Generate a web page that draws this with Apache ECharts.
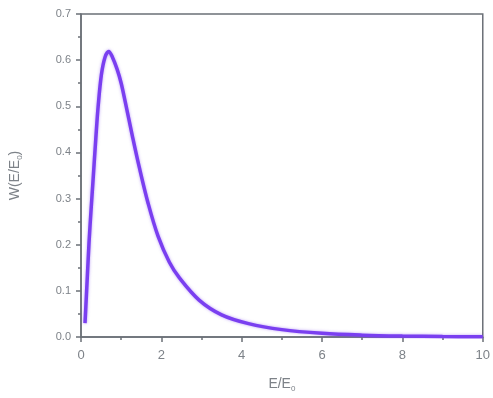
<!DOCTYPE html>
<html>
<head>
<meta charset="utf-8">
<script src="https://cdn.jsdelivr.net/npm/echarts@6/dist/echarts.min.js"></script>
<style>
html,body{margin:0;padding:0;background:#fff;}
#chart{width:493px;height:398px;}
</style>
</head>
<body>
<div id="chart"></div>
<script>
// Data
const energy = [0.10, 0.12, 0.16, 0.20, 0.25, 0.30, 0.37, 0.43, 0.51, 0.60, 0.69, 0.78, 0.90, 1.00, 1.10, 1.28, 1.45, 1.67, 1.92, 2.20, 2.45, 2.94, 3.50, 4.17, 5.00, 6.00, 7.00, 8.00, 9.00, 10.0];
const wValues = [0.030, 0.065, 0.135, 0.205, 0.275, 0.340, 0.432, 0.503, 0.570, 0.607, 0.619, 0.607, 0.580, 0.550, 0.510, 0.435, 0.368, 0.290, 0.218, 0.162, 0.128, 0.080, 0.048, 0.029, 0.016, 0.008, 0.004, 0.002, 0.001, 0.0005];
const xTicks = [0, 2, 4, 6, 8, 10];
const yTicks = [0.0, 0.1, 0.2, 0.3, 0.4, 0.5, 0.6, 0.7];

const points = energy.map((e, i) => [e, wValues[i]]);
const axisColor = '#6b7077';
const labelColor = '#7d8288';
const font = 'Liberation Sans, Arial, sans-serif';

const chart = echarts.init(document.getElementById('chart'));
chart.setOption({
  animation: false,
  backgroundColor: '#fff',
  grid: { left: 80, right: 5, top: 14, bottom: 56, show: true, borderColor: axisColor, borderWidth: 1.5 },
  xAxis: {
    type: 'value', min: xTicks[0], max: xTicks[xTicks.length - 1], interval: 2,
    name: 'E/E{sub|0}', nameLocation: 'middle', nameGap: 38,
    nameTextStyle: { color: labelColor, fontSize: 14, fontFamily: font,
      rich: { sub: { fontSize: 8, verticalAlign: 'bottom', padding: [10, 0, 0, 0], color: labelColor } } },
    axisLine: { lineStyle: { color: axisColor, width: 1.5 } },
    axisTick: { show: true, length: 5, lineStyle: { color: axisColor, width: 1.5 } },
    minorTick: { show: true, splitNumber: 2, length: 3, lineStyle: { color: axisColor, width: 1.5 } },
    splitLine: { show: false },
    axisLabel: { color: labelColor, fontSize: 13, fontFamily: font, margin: 12 }
  },
  yAxis: {
    type: 'value', min: yTicks[0], max: yTicks[yTicks.length - 1], interval: 0.1,
    name: 'W(E/E{sub|0})', nameLocation: 'middle', nameGap: 57, nameRotate: 90,
    nameTextStyle: { color: labelColor, fontSize: 14, fontFamily: font,
      rich: { sub: { fontSize: 8, color: labelColor, padding: [10, 0, 0, 0] } } },
    axisLine: { show: true, lineStyle: { color: axisColor, width: 1.5 } },
    axisTick: { show: true, length: 5, lineStyle: { color: axisColor, width: 1.5 } },
    minorTick: { show: true, splitNumber: 2, length: 3, lineStyle: { color: axisColor, width: 1.5 } },
    splitLine: { show: false },
    axisLabel: { color: labelColor, fontSize: 11, fontFamily: font, margin: 10,
      formatter: v => v.toFixed(1) }
  },
  series: [{
    type: 'line', data: points, smooth: 0.35, showSymbol: false,
    lineStyle: { color: '#7a3ff0', width: 3.5, shadowColor: 'rgba(122,63,240,0.5)', shadowBlur: 3 }
  }]
});
</script>
</body>
</html>
